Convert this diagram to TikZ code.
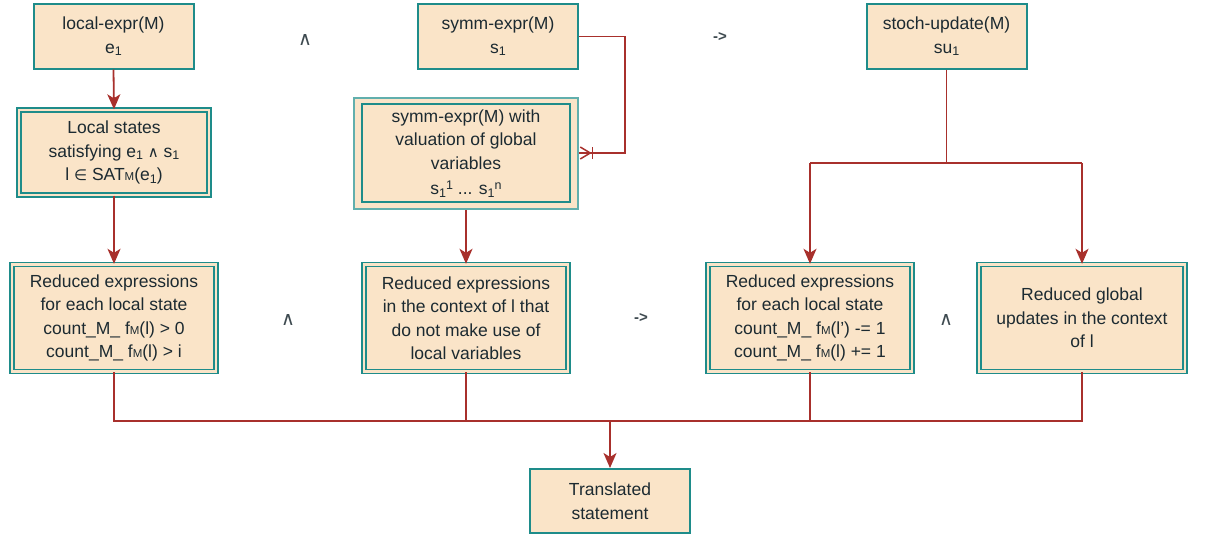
\documentclass[tikz,border=0pt]{standalone}
\usepackage{fontspec}
\setmainfont{Liberation Sans}
\newfontfamily\symfnt{DejaVu Sans}
\usetikzlibrary{arrows.meta}
\definecolor{boxfill}{HTML}{FAE4C8}
\definecolor{boxline}{HTML}{1E8C8A}
\definecolor{wire}{HTML}{A8302C}
\definecolor{ink}{HTML}{1C2A31}
\newcommand\lo[1]{\raisebox{-0.3ex}{\fontsize{12.5}{12}\selectfont #1}}
\newcommand\hi[1]{\raisebox{0.6ex}{\fontsize{12.5}{12}\selectfont #1}}
\newcommand\smM{{\fontsize{11.5}{11}\selectfont M}}
\newcommand\sy[1]{{\symfnt\fontsize{15}{15}\selectfont #1}}
\tikzset{
  txt/.style={font=\fontsize{17.5}{23.5}\selectfont, text=ink, align=center, inner sep=0pt},
  box/.style={txt, draw=boxline, line width=2pt, fill=boxfill},
  dbox/.style={box, line width=1.4pt, double=boxfill, double distance=2.4pt},
  wireline/.style={draw=wire, line width=1.8pt},
  arr/.style={wireline, -{Stealth[length=15pt,width=13pt,inset=4pt]}},
  oplabel/.style={text=ink!85, inner sep=0pt},
  andop/.style={oplabel, font=\symfnt\fontsize{19}{19}\selectfont},
  implop/.style={oplabel, font=\bfseries\fontsize{15}{15}\selectfont}
}
\begin{document}
\begin{tikzpicture}[x=1pt,y=-1pt]
\useasboundingbox (0,0) rectangle (1209,535);

% top row
\node[box, minimum width=160, minimum height=64] (le) at (113.5,36.5) {local-expr(M)\\e\lo{1}};
\node[box, minimum width=160, minimum height=64] (se) at (498,36.5) {symm-expr(M)\\s\lo{1}};
\node[box, minimum width=160, minimum height=64] (su) at (946.5,36.5) {stoch-update(M)\\su\lo{1}};
\node[andop] (op1) at (305,40) {∧};
\node[implop] (op2) at (720,37) {->};

% middle row
\node[dbox, minimum width=190, minimum height=85] (ls) at (114,152.5)
  {Local states\\satisfying e\lo{1} \sy{∧} s\lo{1}\\l \sy{∈} SAT\smM(e\lo{1})};
\node[box, draw=boxline!70, line width=2.5pt, minimum width=224, minimum height=111] (val) at (466,153.5)
  {symm-expr(M) with\\valuation of global\\variables\\[2pt]s\lo{1}\hi{1} ... s\lo{1}\hi{n}};
\draw[boxline, line width=1.8pt] ([shift={(9,7)}]val.north west) rectangle ([shift={(-9,-8)}]val.south east);

% bottom row
\node[dbox, minimum width=204, minimum height=107] (r1) at (114,318)
  {Reduced expressions\\for each local state\\count\_M\_ f\smM(l) > 0\\count\_M\_ f\smM(l) > i};
\node[dbox, minimum width=204, minimum height=107] (r2) at (466,318)
  {Reduced expressions\\in the context of l that\\do not make use of\\local variables};
\node[dbox, minimum width=204, minimum height=107] (r3) at (810,318)
  {Reduced expressions\\for each local state\\count\_M\_ f\smM(l') -= 1\\count\_M\_ f\smM(l) += 1};
\node[dbox, minimum width=206, minimum height=107] (r4) at (1082,318)
  {Reduced global\\updates in the context\\of l};
\node[andop] (op3) at (288,320) {∧};
\node[implop] (op4) at (641,318) {->};
\node[andop] (op5) at (946,320) {∧};

% result
\node[box, minimum width=160, minimum height=64] (ts) at (610,501) {Translated\\statement};

% connectors
\draw[arr] (le.south) -- (ls.north);
\draw[arr] (ls.south) -- (r1.north);
\draw[arr] (val.south) -- (r2.north);

% symm-expr feeds the valuation box (one-to-many end)
\coordinate (sc1) at (625,36.5);
\coordinate (sc2) at (625,153);
\coordinate (sv) at (val.east |- sc2);
\draw[wireline] (se.east) -- (sc1) -- (sc2) -- (sv);
\draw[wireline, line width=1.5pt] ([xshift=1pt,yshift=-6pt]sv) -- ([xshift=11pt]sv) -- ([xshift=1pt,yshift=6pt]sv);
\draw[wireline, line width=1.5pt] ([xshift=13pt,yshift=-6pt]sv) -- ([xshift=13pt,yshift=6pt]sv);

% stoch-update fork
\coordinate (fk) at (946.5,163);
\coordinate (fl) at (r3.north |- fk);
\coordinate (fr) at (r4.north |- fk);
\draw[wireline] (su.south) -- (fk);
\draw[wireline] (fl) -- (fr);
\draw[arr] (fl) -- (r3.north);
\draw[arr] (fr) -- (r4.north);

% join into the translated statement
\coordinate (j1) at (r1.south |- 0,421);
\coordinate (j4) at (r4.south |- 0,421);
\coordinate (jm) at (ts.north |- 0,421);
\draw[wireline] (r1.south) -- (j1) -- (j4) -- (r4.south);
\draw[wireline] (r2.south) -- (r2.south |- jm);
\draw[wireline] (r3.south) -- (r3.south |- jm);
\draw[arr] (jm) -- (ts.north);
\end{tikzpicture}
\end{document}
